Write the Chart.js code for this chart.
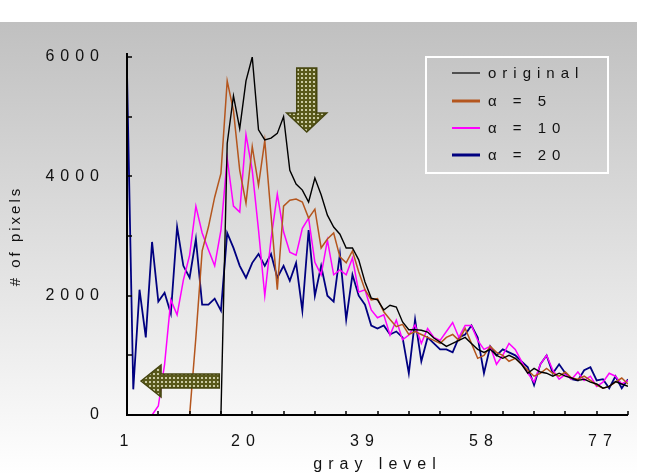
<!DOCTYPE html>
<html>
<head>
<meta charset="utf-8">
<script src="https://cdn.jsdelivr.net/npm/chart.js@4.4.1/dist/chart.umd.min.js"></script>
<style>
html,body{margin:0;padding:0;background:#fff;}
canvas{display:block;}
</style>
</head>
<body>
<canvas id="c" width="650" height="475"></canvas>
<script>
// ---- data ----
const grayLevels = [1,2,3,4,5,6,7,8,9,10,11,12,13,14,15,16,17,18,19,20,21,22,23,24,25,26,27,28,29,30,
  31,32,33,34,35,36,37,38,39,40,41,42,43,44,45,46,47,48,49,50,51,52,53,54,55,56,57,58,59,60,
  61,62,63,64,65,66,67,68,69,70,71,72,73,74,75,76,77,78,79,80,81];

const original = [0,0,0,0,0,0,0,0,0,0,0,0,0,0,0,0,
  4550,5350,4800,5600,6000,4780,4610,4640,4720,5000,4100,3870,3770,3570,3970,3690,3350,3150,3030,
  2800,2800,2600,2230,1960,1930,1760,1840,1810,1560,1430,1430,1420,1390,1290,1220,
  1150,1200,1250,1300,1200,1100,1050,1100,1000,950,1000,950,850,700,780,720,700,650,700,650,
  620,580,600,550,520,450,480,560,520,480];

const alpha5 = [0,0,0,0,0,0,0,0,0,0,0,
  1300,2750,3150,3650,4050,5600,5100,4100,3550,4500,3850,4600,3350,2100,3500,3600,3620,3570,3300,
  3450,2800,2950,3050,2650,2550,2750,2400,2100,1930,1950,1730,1600,1480,1520,1350,
  1400,1350,1300,1250,1200,1300,1350,1250,1450,1200,950,1000,1150,1050,1000,900,950,850,750,650,
  700,780,700,650,720,620,600,650,580,500,450,480,550,620,520];

const alpha10 = [0,0,0,0,0,
  150,850,1930,1680,2260,2680,3500,3050,2770,2500,3100,4300,3500,3400,4700,4100,3100,2000,2950,3700,
  3070,2730,2680,3130,3300,2560,2350,2930,2350,2430,2350,2630,2060,2100,1760,1630,1680,1340,1590,1260,
  1340,1510,
  1200,1450,1300,1250,1400,1550,1300,1500,1500,1250,1100,1150,850,1000,1200,1100,900,700,550,850,
  1000,750,600,680,600,720,580,650,480,550,700,650,520,580];

const alpha20 = [5750,430,2100,1300,2900,1900,2050,1700,3150,2500,2300,2950,1850,1850,1950,1750,
  3050,2800,2500,2300,2550,2700,2500,2700,2300,2500,2250,2550,1750,3100,2000,2500,2000,1900,2700,
  1600,2350,2000,1850,1500,1450,1500,1350,1400,1300,700,1600,900,1300,1200,1100,
  1100,1050,1300,1350,1500,1300,700,1150,1000,1100,1050,1000,900,800,500,850,1000,700,850,700,
  600,580,750,800,580,600,450,650,450,600];

const seriesLabels = ['original', 'α = 5', 'α = 10', 'α = 20'];
const seriesColors = ['#000000', '#b4561e', '#ff00ff', '#000080'];
const xTickLabels = [1, 20, 39, 58, 77];
const yTickValues = [0, 2000, 4000, 6000];

// annotation arrows, anchored in data coordinates
const downArrow = {x: 29.7, top: 5816, headBase: 5062, tip: 4743};
const leftArrow = {tipX: 3.24, tailX: 15.74, y: 570};

const FONT = "'Liberation Sans', Arial, sans-serif";
const SPACING = '6px';

function toPoints(values){ return values.map((v,i)=>({x: grayLevels[i], y: v})); }

function arrowPattern(ctx){
  const c = document.createElement('canvas'); c.width = 4; c.height = 4;
  const p = c.getContext('2d');
  p.fillStyle = '#58581a'; p.fillRect(0,0,4,4);
  p.fillStyle = '#c9c9a2'; p.fillRect(1,1,2,2);
  return ctx.createPattern(c, 'repeat');
}

const deco = {
  id: 'deco',
  beforeLayout(chart){ chart.ctx.letterSpacing = SPACING; },
  afterLayout(chart){
    const s = chart.scales.y;
    if (s && !s._ttlPatched){
      const orig = s.drawTitle;
      s.drawTitle = function(){
        const c = this.ctx; const prev = c.letterSpacing;
        c.letterSpacing = '3px'; orig.apply(this, arguments); c.letterSpacing = prev;
      };
      s._ttlPatched = true;
    }
  },
  beforeDraw(chart){
    const ctx = chart.ctx;
    ctx.save();
    ctx.letterSpacing = '0px';
    ctx.fillStyle = '#ffffff'; ctx.fillRect(0,0,chart.width,chart.height);
    const g = ctx.createLinearGradient(0,22,0,475);
    g.addColorStop(0,'#c0c0c0'); g.addColorStop(1,'#ffffff');
    ctx.fillStyle = g; ctx.fillRect(0,22,637,453);
    ctx.restore();
    ctx.letterSpacing = SPACING;
  },
  afterDatasetsDraw(chart){
    const ctx = chart.ctx, xs = chart.scales.x, ys = chart.scales.y;
    const a = chart.chartArea;
    ctx.save();
    ctx.letterSpacing = '0px';
    // axes
    ctx.strokeStyle = '#000'; ctx.lineWidth = 2;
    ctx.beginPath();
    ctx.moveTo(a.left, a.top - 4); ctx.lineTo(a.left, a.bottom + 1);
    ctx.moveTo(a.left - 1, a.bottom); ctx.lineTo(a.right, a.bottom);
    ctx.stroke();
    ctx.lineWidth = 1.5;
    ctx.beginPath();
    for (let v = 0; v <= 6000; v += 1000){
      const py = Math.round(ys.getPixelForValue(v));
      ctx.moveTo(a.left, py); ctx.lineTo(a.left + 5, py);
    }
    for (let v = 1; v <= 81; v += 5){
      const px = Math.round(xs.getPixelForValue(v));
      ctx.moveTo(px, a.bottom); ctx.lineTo(px, a.bottom - 4);
    }
    ctx.stroke();

    // arrows
    const pat = arrowPattern(ctx);
    ctx.fillStyle = pat; ctx.strokeStyle = '#454510'; ctx.lineWidth = 1.5;
    let cx = xs.getPixelForValue(downArrow.x);
    let t = ys.getPixelForValue(downArrow.top);
    let hb = ys.getPixelForValue(downArrow.headBase);
    let tp = ys.getPixelForValue(downArrow.tip);
    ctx.beginPath();
    ctx.moveTo(cx-10,t); ctx.lineTo(cx+10,t); ctx.lineTo(cx+10,hb); ctx.lineTo(cx+20,hb);
    ctx.lineTo(cx,tp); ctx.lineTo(cx-20,hb); ctx.lineTo(cx-10,hb); ctx.closePath();
    ctx.fill(); ctx.stroke();
    const tx = xs.getPixelForValue(leftArrow.tipX);
    const tl = xs.getPixelForValue(leftArrow.tailX);
    const cy = ys.getPixelForValue(leftArrow.y);
    const hx = tx + 20;
    ctx.beginPath();
    ctx.moveTo(tx,cy); ctx.lineTo(hx,cy-16); ctx.lineTo(hx,cy-7); ctx.lineTo(tl,cy-7);
    ctx.lineTo(tl,cy+7); ctx.lineTo(hx,cy+7); ctx.lineTo(hx,cy+16); ctx.closePath();
    ctx.fill(); ctx.stroke();

    // legend box
    const lx = 426, ly = 57, lw = 182, lh = 116;
    ctx.strokeStyle = '#ffffff'; ctx.lineWidth = 2;
    ctx.strokeRect(lx, ly, lw, lh);
    const rows = [73, 101, 128, 155];
    const widths = [1.2, 3, 2, 3];
    ctx.font = '15px ' + FONT;
    ctx.textBaseline = 'middle'; ctx.textAlign = 'left';
    chart.data.datasets.forEach((ds, i) => {
      ctx.strokeStyle = ds.borderColor; ctx.lineWidth = widths[i];
      ctx.beginPath(); ctx.moveTo(452, rows[i]); ctx.lineTo(480, rows[i]); ctx.stroke();
      ctx.fillStyle = '#111';
      ctx.letterSpacing = SPACING;
      ctx.fillText(ds.label, 488, rows[i] + 1);
      ctx.letterSpacing = '0px';
    });
    ctx.restore();
    ctx.letterSpacing = SPACING;
  }
};

const datasets = [original, alpha5, alpha10, alpha20].map((vals, i) => ({
  label: seriesLabels[i],
  data: toPoints(vals),
  borderColor: seriesColors[i],
  backgroundColor: seriesColors[i],
  borderWidth: i === 0 ? 1.4 : (i === 3 ? 1.8 : 1.5),
  pointRadius: 0,
  tension: 0,
  fill: false
}));

new Chart(document.getElementById('c'), {
  type: 'line',
  data: { datasets },
  plugins: [deco],
  options: {
    responsive: false,
    animation: false,
    devicePixelRatio: 1,
    layout: { padding: { top: 57, right: 22, left: 0, bottom: 0 } },
    plugins: { legend: { display: false }, tooltip: { enabled: false } },
    scales: {
      x: {
        type: 'linear', min: 1, max: 81,
        grid: { display: false, drawTicks: false },
        border: { display: false },
        afterBuildTicks(s){ s.ticks = xTickLabels.map(v => ({value: v})); },
        afterFit(s){ s.height = 60; s.paddingLeft = 0; s.paddingRight = 0; },
        ticks: { font: { family: FONT, size: 16 }, color: '#111', padding: 17, maxRotation: 0, autoSkip: false,
                 callback: v => String(v) },
        title: { display: true, text: 'gray level', font: { family: FONT, size: 16 }, color: '#111', padding: { top: 0, bottom: 1 } }
      },
      y: {
        min: 0, max: 6000,
        grid: { display: false, drawTicks: false },
        border: { display: false },
        afterBuildTicks(s){ s.ticks = yTickValues.map(v => ({value: v})); },
        afterFit(s){ s.width = 127; s.paddingTop = 0; s.paddingBottom = 0; },
        ticks: { font: { family: FONT, size: 16 }, color: '#111', padding: 22, callback: v => String(v) },
        title: { display: true, text: '# of pixels', font: { family: FONT, size: 15 }, color: '#111', padding: { top: 7, bottom: 0 } }
      }
    }
  }
});
</script>
</body>
</html>
